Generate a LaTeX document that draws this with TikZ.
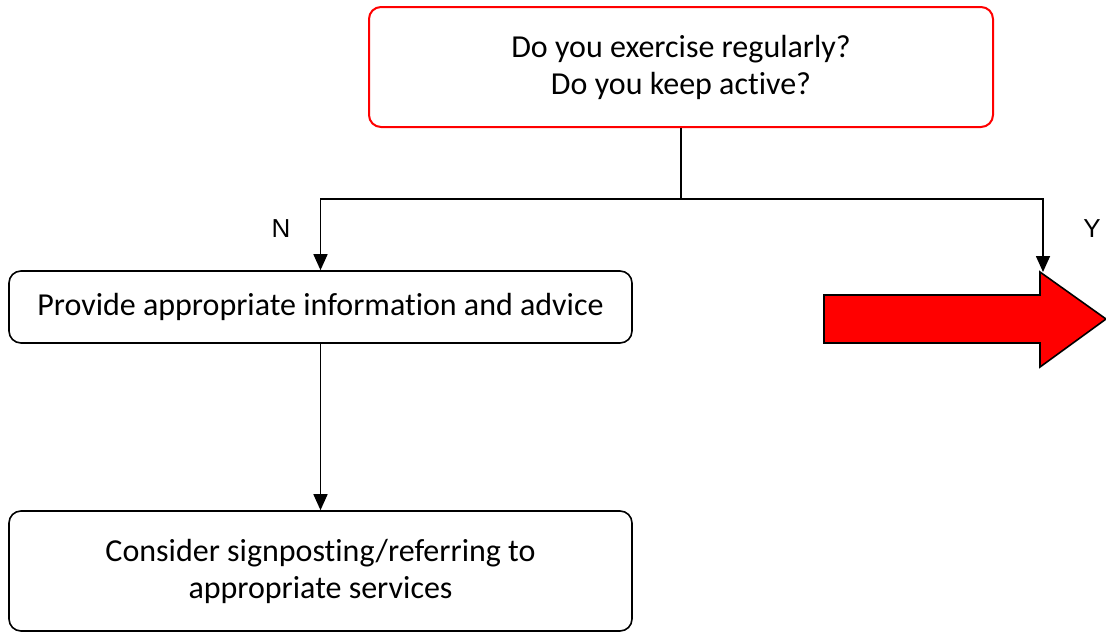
\documentclass[tikz,border=0pt]{standalone}
\usepackage{fontspec}
\setmainfont{Carlito}[Ligatures=NoCommon]
\newfontfamily\labelfont{Liberation Sans}
\usetikzlibrary{arrows.meta}
\begin{document}
\begin{tikzpicture}[x=1pt,y=-1pt,
  box/.style={draw=black, line width=1.6pt, rounded corners=12pt, fill=white,
    align=center, inner sep=0pt, font=\fontsize{32}{37}\selectfont},
  qbox/.style={box, draw={rgb,255:red,255;green,0;blue,0}, line width=2pt},
  link/.style={line width=1.6pt, -{Triangle[length=16pt,width=14pt]}},
  yn/.style={font=\labelfont\fontsize{26}{30}\selectfont}]
\useasboundingbox (0,0) rectangle (1106,632);
% question
\node[qbox, minimum width=624pt, minimum height=120pt] (q) at (681,67)
  {Do you exercise regularly?\\Do you keep active?};
% "no" branch
\node[box, minimum width=623pt, minimum height=72pt] (advice) at (320.5,307)
  {Provide appropriate information and advice};
\node[box, minimum width=623pt, minimum height=120pt] (refer) at (320.5,571)
  {Consider signposting/referring to\\appropriate services};
% "yes" arrow
\fill[red] (824,295) -- (1040,295) -- (1040,272) -- (1106,319) -- (1040,367)
  -- (1040,343) -- (824,343) -- cycle;
\draw[line width=1.6pt, line join=miter] (824,295) -- (1040,295) -- (1040,272)
  -- (1106,319) -- (1040,367) -- (1040,343) -- (824,343) -- cycle;
\coordinate (yhead) at (1043,272);
\coordinate (split) at (681,199);
% connectors
\draw[line width=1.6pt] (q.south) -- (split);
\draw[link] (split) -| (advice.north);
\draw[link] (split) -| (yhead);
\draw[link] (advice.south) -- (refer.north);
% labels
\node[yn] (nlab) at (281,229) {N};
\node[yn] (ylab) at (1092,229) {Y};
\end{tikzpicture}
\end{document}
